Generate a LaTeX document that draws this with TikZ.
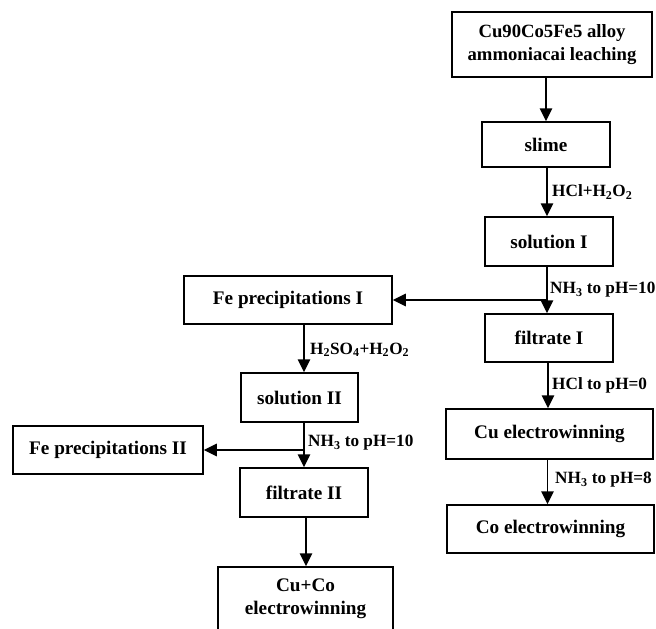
\documentclass[tikz,border=0pt]{standalone}
\usepackage{fontspec}
\setmainfont{Liberation Serif}
\usetikzlibrary{arrows.meta,calc}
\begin{document}
\begin{tikzpicture}[x=1pt,y=-1pt,
  box/.style={draw=black,line width=1.5pt,minimum width=#1,inner sep=0pt,align=center,
    font=\fontsize{19.2}{23}\selectfont\bfseries},
  lbl/.style={anchor=west,inner sep=0pt,font=\fontsize{17.2}{20}\selectfont\bfseries},
  arr/.style={line width=1.5pt,-{Triangle[width=12.5pt,length=13pt]}}]
\useasboundingbox (0,0) rectangle (656,629);
\clip (0,0) rectangle (656,629);
% right column
\node[box=200pt,minimum height=65pt,font=\fontsize{18.7}{23}\selectfont\bfseries] (box1) at (552,44.5) {Cu90Co5Fe5 alloy\\ammoniacai leaching};
\node[box=128pt,minimum height=45pt] (slime) at (546,144.5) {slime};
\node[box=128pt,minimum height=49pt] (solI) at (549,241.5) {solution I};
\node[box=128pt,minimum height=48pt] (filtI) at (549,338) {filtrate I};
\node[box=207pt,minimum height=50pt] (CuEW) at (549.5,434) {Cu electrowinning};
\node[box=207pt,minimum height=48pt] (CoEW) at (550.5,529) {Co electrowinning};
% left column
\node[box=208pt,minimum height=48pt] (FeI) at (288,300) {Fe precipitations I};
\node[box=117pt,minimum height=49pt] (solII) at (299.5,397.5) {solution II};
\node[box=190pt,minimum height=48pt] (FeII) at (108,450) {Fe precipitations II};
\node[box=128pt,minimum height=49pt] (filtII) at (304,492.5) {filtrate II};
\node[box=175pt,minimum height=64pt] (CuCo) at (305.5,599) {Cu+Co\\electrowinning};
% connectors right
\draw[arr] (box1.south -| slime.north) -- (slime.north);
\draw[arr] ([xshift=1pt]slime.south) -- ([xshift=1pt]slime.south |- solI.north);
\draw[arr] ([xshift=-2pt]solI.south) -- ([xshift=-2pt]solI.south |- filtI.north);
\coordinate (br1) at ([xshift=-2pt]solI.south |- FeI.east);
\draw[arr] (br1) -- (FeI.east);
\draw[arr] ([xshift=-1pt]filtI.south) -- ([xshift=-1pt]filtI.south |- CuEW.north);
\draw[arr] ([xshift=-2pt]CuEW.south) -- ([xshift=-2pt]CuEW.south |- CoEW.north);
% connectors left
\draw[arr] (FeI.south -| filtII.north) -- (solII.north -| filtII.north);
\draw[arr] (solII.south -| filtII.north) -- (filtII.north);
\coordinate (br2) at (solII.south -| filtII.north);
\draw[arr] (br2 |- FeII.east) -- (FeII.east);
\draw[arr] ([xshift=2pt]filtII.south) -- ([xshift=2pt]filtII.south |- CuCo.north);
% labels
\node[lbl] (l1) at (552,192) {HCl+H\textsubscript{2}O\textsubscript{2}};
\node[lbl] (l2) at (550,290) {NH\textsubscript{3} to pH=10};
\node[lbl] (l3) at (552,385) {HCl to pH=0};
\node[lbl] (l4) at (555,480) {NH\textsubscript{3} to pH=8};
\node[lbl] (l5) at (310,350) {H\textsubscript{2}SO\textsubscript{4}+H\textsubscript{2}O\textsubscript{2}};
\node[lbl] (l6) at (308,443) {NH\textsubscript{3} to pH=10};
\end{tikzpicture}
\end{document}
